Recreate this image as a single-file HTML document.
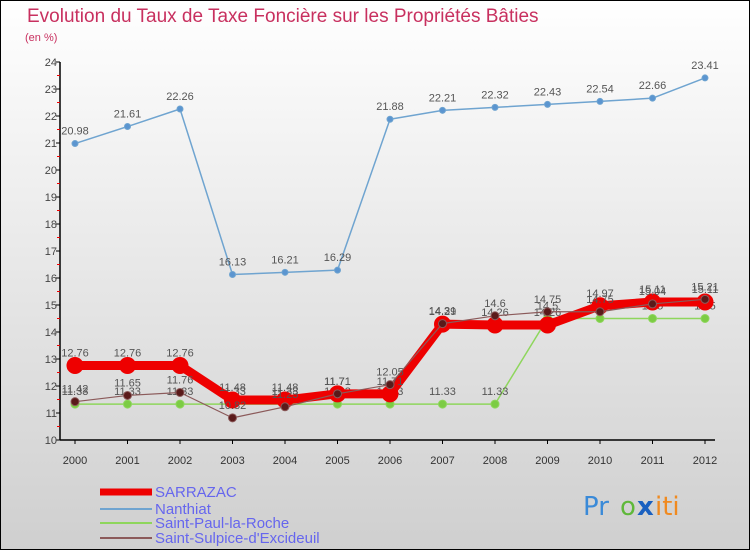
<!DOCTYPE html>
<html><head><meta charset="utf-8"><style>
body{margin:0;width:750px;height:550px;overflow:hidden;}
svg{display:block;font-family:"Liberation Sans",sans-serif;}
</style></head><body>
<svg width="750" height="550">
<defs><linearGradient id="bg" x1="0" y1="0" x2="0" y2="1"><stop offset="0" stop-color="#ffffff"/><stop offset="1" stop-color="#cfcfcf"/></linearGradient></defs>
<rect x="0" y="0" width="750" height="550" fill="url(#bg)" stroke="#000" stroke-width="2"/>
<text x="27" y="22" font-size="19" fill="#c8305f">Evolution du Taux de Taxe Foncière sur les Propriétés Bâties</text>
<text x="25" y="41" font-size="11" fill="#c8305f">(en %)</text>
<g id="axes"></g>
<g id="series"></g>
<g id="legend">
<line x1="100" y1="492" x2="152" y2="492" stroke="#ee0000" stroke-width="7"/>
<text x="155" y="497" font-size="15" fill="#6666ee">SARRAZAC</text>
<line x1="100" y1="509" x2="152" y2="509" stroke="#6fa4d0" stroke-width="2"/>
<text x="155" y="514" font-size="15" fill="#6666ee">Nanthiat</text>
<line x1="100" y1="523" x2="152" y2="523" stroke="#8ed65c" stroke-width="2"/>
<text x="155" y="528" font-size="15" fill="#6666ee">Saint-Paul-la-Roche</text>
<line x1="100" y1="538" x2="152" y2="538" stroke="#8b5a5a" stroke-width="2"/>
<text x="155" y="543" font-size="15" fill="#6666ee">Saint-Sulpice-d'Excideuil</text>
</g>
<g font-size="26" font-family="'DejaVu Sans',sans-serif">
<text x="583" y="515" fill="#3a8ad8">Pr</text><text x="620" y="515" fill="#5fb83a">o</text><text x="637" y="515" fill="#1a60c0" font-weight="bold">x</text><text x="655" y="515" fill="#f08a20">iti</text>
</g>
</svg>
<script>
const years=[2000,2001,2002,2003,2004,2005,2006,2007,2008,2009,2010,2011,2012];
const yTicks=[10,11,12,13,14,15,16,17,18,19,20,21,22,23,24];
const sarrazac=[12.76,12.76,12.76,11.48,11.48,11.71,11.71,14.29,14.26,14.26,14.97,15.11,15.11];
const nanthiat=[20.98,21.61,22.26,16.13,16.21,16.29,21.88,22.21,22.32,22.43,22.54,22.66,23.41];
const saintPaul=[11.33,11.33,11.33,11.33,11.33,11.33,11.33,11.33,11.33,14.5,14.5,14.5,14.5];
const saintSulpice=[11.42,11.65,11.76,10.82,11.23,11.71,12.05,14.31,14.6,14.75,14.75,15.04,15.21];
const NS="http://www.w3.org/2000/svg";
const xs=i=>75+i*52.5;
const ys=v=>440-(v-10)*27;
function mk(tag,attrs,parent){const e=document.createElementNS(NS,tag);for(const k in attrs)e.setAttribute(k,attrs[k]);parent.appendChild(e);return e;}
const ax=document.getElementById('axes');
let a=mk('line',{x1:60,y1:62,x2:60,y2:440,stroke:'#000','stroke-width':1.5},ax);


a=mk('line',{x1:60,y1:440,x2:715,y2:440,stroke:'#000','stroke-width':1.5},ax);


yTicks.forEach(t=>{
  const y=ys(t);
  const l=mk('line',{x1:56,y1:y,x2:60,y2:y,stroke:'#000'},ax);
  
  
  const tx=mk('text',{x:57,y:y+4,'font-size':11,fill:'#444','text-anchor':'end'},ax);
  tx.textContent=t;
  
  
  if(t<24){const m=mk('line',{x1:57,y1:y-13.5,x2:60,y2:y-13.5,stroke:'#e00'},ax);
  
  }
});
years.forEach((yr,i)=>{
  const x=xs(i);
  const l=mk('line',{x1:x,y1:440,x2:x,y2:444,stroke:'#000'},ax);
  
  
  const tx=mk('text',{x:x,y:464,'font-size':11,fill:'#333','text-anchor':'middle'},ax);
  tx.textContent=yr;
  
  
});
const sg=document.getElementById('series');
function draw(vals,name,color,w,r,dot){
  const g=mk('g',{},sg);
  
  
  const p=mk('polyline',{points:vals.map((v,i)=>xs(i)+','+ys(v)).join(' '),fill:'none',stroke:color,'stroke-width':w,'stroke-linejoin':'round'},g);
  
  
  vals.forEach((v,i)=>{
    const c=mk('circle',{cx:xs(i),cy:ys(v),r:r,fill:dot,stroke:color,'stroke-width':1},g);
    
    
    const t=mk('text',{x:xs(i),y:ys(v)-9,'font-size':11,fill:'#555','text-anchor':'middle'},g);
    t.textContent=v;
    
    
  });
}
draw(nanthiat,'nanthiat','#6fa4d0',1.5,3,'#5b95d0');
draw(saintPaul,'saint-paul','#8ed65c',1.5,4,'#7ccc44');
draw(sarrazac,'sarrazac','#ee0000',9,8,'#ee0000');
draw(saintSulpice,'saint-sulpice','#8b5a5a',1.2,4,'#5a1a1a');
</script>
</body></html>
